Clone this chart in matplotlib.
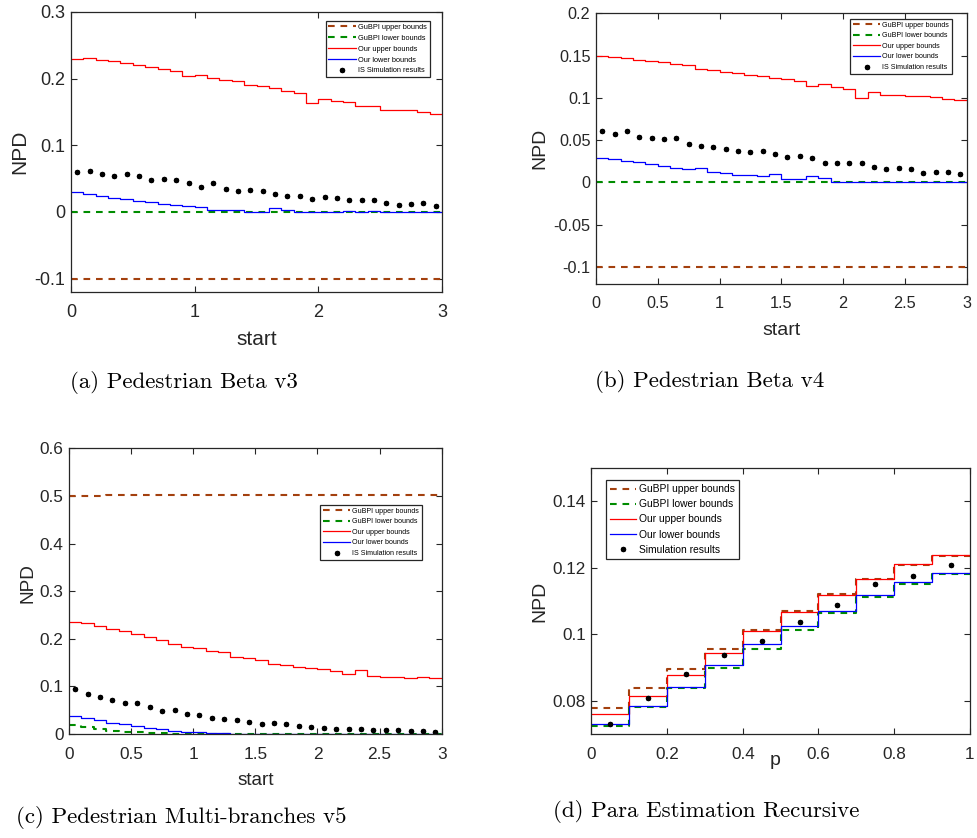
import matplotlib
matplotlib.use('Agg')
import matplotlib.pyplot as plt
import numpy as np

plt.rcParams['font.family'] = ['Liberation Sans', 'DejaVu Sans']
plt.rcParams['axes.unicode_minus'] = False

# x grid: 30 intervals of width 0.1 on [0, 3], 10 intervals on [0, 1]
start_edges = np.linspace(0, 3, 31)
start_mid = (start_edges[:-1] + start_edges[1:]) / 2
p_edges = np.linspace(0, 1, 11)
p_mid = (p_edges[:-1] + p_edges[1:]) / 2

# (a) Pedestrian Beta v3
a_gubpi_upper = [-0.1] * 30
a_gubpi_lower = [0.0] * 30
a_our_upper = [0.230, 0.2305, 0.2285, 0.2265, 0.224, 0.221, 0.2175, 0.214, 0.2115, 0.2035,
               0.206, 0.201, 0.198, 0.1965, 0.191, 0.1895, 0.186, 0.181, 0.179, 0.1635,
               0.1695, 0.167, 0.1655, 0.1585, 0.159, 0.1535, 0.153, 0.1525, 0.1495, 0.147]
a_our_lower = [0.0295, 0.0275, 0.0235, 0.0215, 0.019, 0.016, 0.015, 0.012, 0.0105, 0.009,
               0.007, 0.0035, 0.0025, 0.0025, 0.0005, 0.0005, 0.0055, 0.003, 0.0, 0.0,
               0.0, 0.0, 0.001, 0.0, 0.002, 0.0, 0.0, 0.0, 0.0, 0.0]
a_sim = [0.0595, 0.0615, 0.0565, 0.0535, 0.0575, 0.0535, 0.0485, 0.049, 0.0485, 0.043,
         0.038, 0.044, 0.035, 0.032, 0.033, 0.032, 0.027, 0.024, 0.024, 0.020,
         0.0225, 0.021, 0.018, 0.018, 0.018, 0.0135, 0.0105, 0.0125, 0.014, 0.0095]

# (b) Pedestrian Beta v4
b_gubpi_upper = [-0.1] * 30
b_gubpi_lower = [0.0] * 30
b_our_upper = [0.1492, 0.1484, 0.1468, 0.1452, 0.1436, 0.1429, 0.1401, 0.1393, 0.1345, 0.1334,
               0.131, 0.1294, 0.127, 0.1258, 0.1235, 0.1219, 0.1199, 0.1144, 0.116, 0.1132,
               0.1104, 0.1001, 0.1064, 0.1029, 0.1033, 0.1025, 0.1021, 0.1009, 0.0985, 0.0977]
b_our_lower = [0.0293, 0.0273, 0.0257, 0.0237, 0.0218, 0.019, 0.0174, 0.0154, 0.0174, 0.0119,
               0.0107, 0.0091, 0.0091, 0.0071, 0.0095, 0.0044, 0.0036, 0.0079, 0.0059, 0.0,
               0.0, 0.0, 0.0, 0.0, 0.0, 0.0, 0.0, 0.0, 0.0005, 0.0]
b_sim = [0.0613, 0.0578, 0.0613, 0.0534, 0.0526, 0.051, 0.053, 0.0451, 0.0427, 0.0419,
         0.04, 0.0372, 0.036, 0.0376, 0.0336, 0.0305, 0.0313, 0.0289, 0.0233, 0.0233,
         0.023, 0.023, 0.0186, 0.0154, 0.0174, 0.0154, 0.0111, 0.0123, 0.0123, 0.0099]

# (c) Pedestrian Multi-branches v5
c_gubpi_upper = [0.4998, 0.5003, 0.5008, 0.5013, 0.5018, 0.5023, 0.5028, 0.503, 0.503, 0.503,
                 0.503, 0.503, 0.503, 0.503, 0.503, 0.503, 0.503, 0.503, 0.503, 0.503,
                 0.503, 0.503, 0.503, 0.503, 0.503, 0.503, 0.503, 0.503, 0.503, 0.503]
c_gubpi_lower = [0.019, 0.0155, 0.0112, 0.007, 0.0049, 0.0035, 0.002, 0.0014, 0.0007, 0.0,
                 0.0, 0.0, 0.0, 0.0, 0.0, 0.0, 0.0, 0.0, 0.0, 0.0,
                 0.0, 0.0, 0.0, 0.0, 0.0, 0.0, 0.0, 0.0, 0.0, 0.0]
c_our_upper = [0.2361, 0.2326, 0.227, 0.2214, 0.2157, 0.2101, 0.2038, 0.1968, 0.1897, 0.1834,
               0.1799, 0.1743, 0.1715, 0.1616, 0.1588, 0.1553, 0.1469, 0.1455, 0.1398, 0.1377,
               0.1363, 0.1328, 0.1258, 0.1349, 0.1209, 0.1202, 0.1188, 0.1167, 0.1188, 0.1167]
c_our_lower = [0.038, 0.0344, 0.0295, 0.0239, 0.0204, 0.0162, 0.0126, 0.0098, 0.007, 0.0049,
               0.0042, 0.0021, 0.0014, 0.0007, 0.0, 0.0, 0.0, 0.0, 0.0, 0.0,
               0.0, 0.0, 0.0, 0.0, 0.0, 0.0, 0.0, 0.0, 0.0, 0.0]
c_sim = [0.0935, 0.0843, 0.078, 0.0724, 0.0654, 0.0661, 0.0576, 0.0492, 0.0513, 0.0415,
         0.0408, 0.0344, 0.0316, 0.0288, 0.0253, 0.0204, 0.0225, 0.0218, 0.0176, 0.0155,
         0.0119, 0.0105, 0.0098, 0.0112, 0.0084, 0.0077, 0.0077, 0.007, 0.0063, 0.0042]

# (d) Para Estimation Recursive
d_gubpi_upper = [0.0779, 0.0837, 0.0896, 0.0956, 0.1013, 0.1069, 0.112, 0.1166, 0.1207, 0.1236]
d_gubpi_lower = [0.0725, 0.0782, 0.0839, 0.0898, 0.0957, 0.1013, 0.1065, 0.1112, 0.1152, 0.1181]
d_our_upper = [0.0759, 0.0815, 0.0878, 0.0943, 0.1009, 0.1067, 0.1119, 0.1167, 0.121, 0.1237]
d_our_lower = [0.073, 0.0784, 0.0841, 0.0908, 0.097, 0.1024, 0.1071, 0.1118, 0.1157, 0.1185]
d_sim = [0.0731, 0.0809, 0.0881, 0.0937, 0.098, 0.1037, 0.1087, 0.1152, 0.1176, 0.1207]

BROWN = '#A3400E'
GREEN = '#008C00'
DARK = '#262626'


def fmt(v):
    return '{:g}'.format(round(v, 4))


def draw_panel(ax, edges, mid, gu, gl, ou, ol, sim, sim_label, xlim, ylim,
               xticks, yticks, xlabel, tick_fs, lab_fs, leg_fs, leg_anchor, leg_loc,
               handlelen, ylab_x, ylab_y, xlab_y, xlab_x=0.5):
    def st(vals):
        return list(vals) + [vals[-1]]
    ax.step(edges, st(gu), where='post', color=BROWN, lw=1.5, ls=(0, (3.2, 2.8)),
            label='GuBPI upper bounds')
    ax.step(edges, st(gl), where='post', color=GREEN, lw=1.5, ls=(0, (3.2, 2.8)),
            label='GuBPI lower bounds')
    ax.step(edges, st(ou), where='post', color='#FF0000', lw=0.9, label='Our upper bounds')
    ax.step(edges, st(ol), where='post', color='#0000FF', lw=0.9, label='Our lower bounds')
    ax.plot(mid, sim, ls='none', marker=(8, 2, 0), ms=3.8, mew=1.1, color='black',
            label=sim_label)
    ax.set_xlim(*xlim)
    ax.set_ylim(*ylim)
    ax.set_xticks(xticks)
    ax.set_xticklabels([fmt(t) for t in xticks])
    ax.set_yticks(yticks)
    ax.set_yticklabels([fmt(t) for t in yticks])
    ax.tick_params(direction='in', top=True, right=True, length=4.5, width=0.8,
                   colors=DARK, labelsize=tick_fs)
    ax.tick_params(axis='x', pad=9)
    ax.tick_params(axis='y', pad=4)
    for sp in ax.spines.values():
        sp.set_color(DARK)
        sp.set_linewidth(0.9)
    ax.set_ylabel('NPD', fontsize=lab_fs, color=DARK, va='center')
    ax.yaxis.set_label_coords(ylab_x, ylab_y)
    ax.set_xlabel(xlabel, fontsize=lab_fs, color=DARK, va='center')
    ax.xaxis.set_label_coords(xlab_x, xlab_y)
    leg = ax.legend(loc=leg_loc, bbox_to_anchor=leg_anchor, fontsize=leg_fs,
                    fancybox=False, framealpha=1, edgecolor=DARK, numpoints=1,
                    handlelength=handlelen, handletextpad=0.25, borderpad=0.4,
                    labelspacing=0.5, borderaxespad=0)
    leg.get_frame().set_linewidth(0.9)
    return ax


fig = plt.figure(figsize=(9.77, 8.38), dpi=100)

ax_a = fig.add_axes([0.0727, 0.6516, 0.3797, 0.3341])
draw_panel(ax_a, start_edges, start_mid, a_gubpi_upper, a_gubpi_lower, a_our_upper,
           a_our_lower, a_sim, 'IS Simulation results', (0, 3), (-0.12, 0.3),
           [0, 1, 2, 3], [-0.1, 0, 0.1, 0.2, 0.3], 'start', 13, 15, 5.3,
           (0.968, 0.968), 'upper right', 3.8, -0.137, 0.5, -0.17)

ax_b = fig.add_axes([0.610, 0.6611, 0.3794, 0.3230])
draw_panel(ax_b, start_edges, start_mid, b_gubpi_upper, b_gubpi_lower, b_our_upper,
           b_our_lower, b_sim, 'IS Simulation results', (0, 3), (-0.12, 0.2),
           [0, 0.5, 1, 1.5, 2, 2.5, 3], [-0.1, -0.05, 0, 0.05, 0.1, 0.15, 0.2], 'start',
           11.7, 14, 5.1, (0.9595, 0.979), 'upper right', 3.8, -0.151, 0.5, -0.172)

ax_c = fig.add_axes([0.0706, 0.1241, 0.3815, 0.3409])
draw_panel(ax_c, start_edges, start_mid, c_gubpi_upper, c_gubpi_lower, c_our_upper,
           c_our_lower, c_sim, 'IS Simulation results', (0, 3), (0, 0.6),
           [0, 0.5, 1, 1.5, 2, 2.5, 3], [0, 0.1, 0.2, 0.3, 0.4, 0.5, 0.6], 'start',
           12.4, 13.7, 5.1, (0.946, 0.8016), 'upper right', 3.8, -0.111, 0.528, -0.164)

ax_d = fig.add_axes([0.6052, 0.1241, 0.3876, 0.3174])
draw_panel(ax_d, p_edges, p_mid, d_gubpi_upper, d_gubpi_lower, d_our_upper,
           d_our_lower, d_sim, 'Simulation results', (0, 1), (0.07, 0.15),
           [0, 0.2, 0.4, 0.6, 0.8, 1], [0.08, 0.1, 0.12, 0.14], 'p',
           12.3, 14, 7.4, (0.0396, 0.955), 'upper left', 2.5, -0.137, 0.5, -0.10, 0.485)

cap = dict(fontfamily='cmr10', fontsize=16.5, color='black', ha='left', va='center')
fig.text(70 / 977, 1 - 382 / 838, '(a) Pedestrian Beta v3', **cap)
fig.text(595 / 977, 1 - 381 / 838, '(b) Pedestrian Beta v4', **cap)
fig.text(16 / 977, 1 - 817 / 838, '(c) Pedestrian Multi-branches v5', **cap)
fig.text(553 / 977, 1 - 811 / 838, '(d) Para Estimation Recursive', **cap)

fig.savefig('out.png', dpi=100)
